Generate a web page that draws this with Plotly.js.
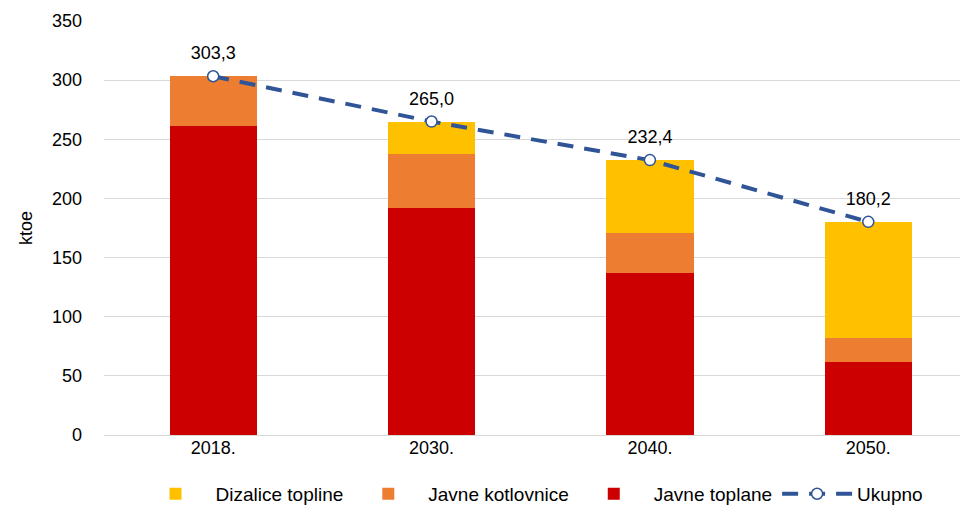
<!DOCTYPE html>
<html><head><meta charset="utf-8">
<script src="https://cdn.plot.ly/plotly-3.0.1.min.js"></script>
<style>html,body{margin:0;padding:0;background:#fff}#chart{width:966px;height:505px}</style>
</head><body><div id="chart"></div>
<script>
const categories = ['2018.', '2030.', '2040.', '2050.'];
const javneToplane = [261.2, 191.9, 137.2, 62.0];
const javneKotlovnice = [42.1, 45.6, 33.8, 20.2];
const dizaliceTopline = [0, 27.5, 61.4, 98.0];
const ukupno = [303.3, 265.0, 232.4, 180.2];
const ukupnoLabels = ['303,3', '265,0', '232,4', '180,2'];

function mkFont(s) { return {family: 'Liberation Sans, Arial, sans-serif', size: s || 18, color: '#000000'}; }

const traces = [
  {type: 'bar', name: 'Javne toplane', x: categories, y: javneToplane, marker: {color: '#CC0000'}, width: 0.4, legendrank: 3},
  {type: 'bar', name: 'Javne kotlovnice', x: categories, y: javneKotlovnice, marker: {color: '#ED7D31'}, width: 0.4, legendrank: 2},
  {type: 'bar', name: 'Dizalice topline', x: categories, y: dizaliceTopline, marker: {color: '#FFC000'}, width: 0.4, legendrank: 1},
  {type: 'scatter', mode: 'lines+markers', name: 'Ukupno', x: categories, y: ukupno, legendrank: 4,
   line: {color: '#2F5597', width: 4, dash: '16px,11px'},
   marker: {symbol: 'circle', size: 11, color: '#ffffff', line: {color: '#2F5597', width: 1.5}}},
  {type: 'scatter', mode: 'markers+text', x: categories, y: ukupno, text: ukupnoLabels, textposition: 'top center',
   textfont: mkFont(18), marker: {size: 18, opacity: 0}, showlegend: false, hoverinfo: 'skip'}
];

const layout = {
  width: 966, height: 505,
  margin: {l: 104, r: 6, t: 21, b: 70, autoexpand: false},
  barmode: 'stack',
  paper_bgcolor: '#ffffff', plot_bgcolor: '#ffffff',
  font: mkFont(18),
  showlegend: true,
  legend: {orientation: 'h', x: 0.5, xanchor: 'center', yref: 'container', y: 0.022, yanchor: 'middle', font: mkFont(19), traceorder: 'normal', itemwidth: 70},
  xaxis: {type: 'category', range: [-0.5, 3.42], showgrid: false, zeroline: false, showline: false, ticks: '', tickfont: mkFont(18)},
  yaxis: {range: [0, 350], dtick: 50, showgrid: true, gridcolor: '#D9D9D9', gridwidth: 1.3, zeroline: true, zerolinecolor: '#D9D9D9', zerolinewidth: 1.3,
          showline: false, ticks: '', ticklabelstandoff: 21, tickfont: mkFont(18),
          title: {text: 'ktoe', font: mkFont(18), standoff: 14}}
};

Plotly.newPlot('chart', traces, layout, {displayModeBar: false});
</script></body></html>
